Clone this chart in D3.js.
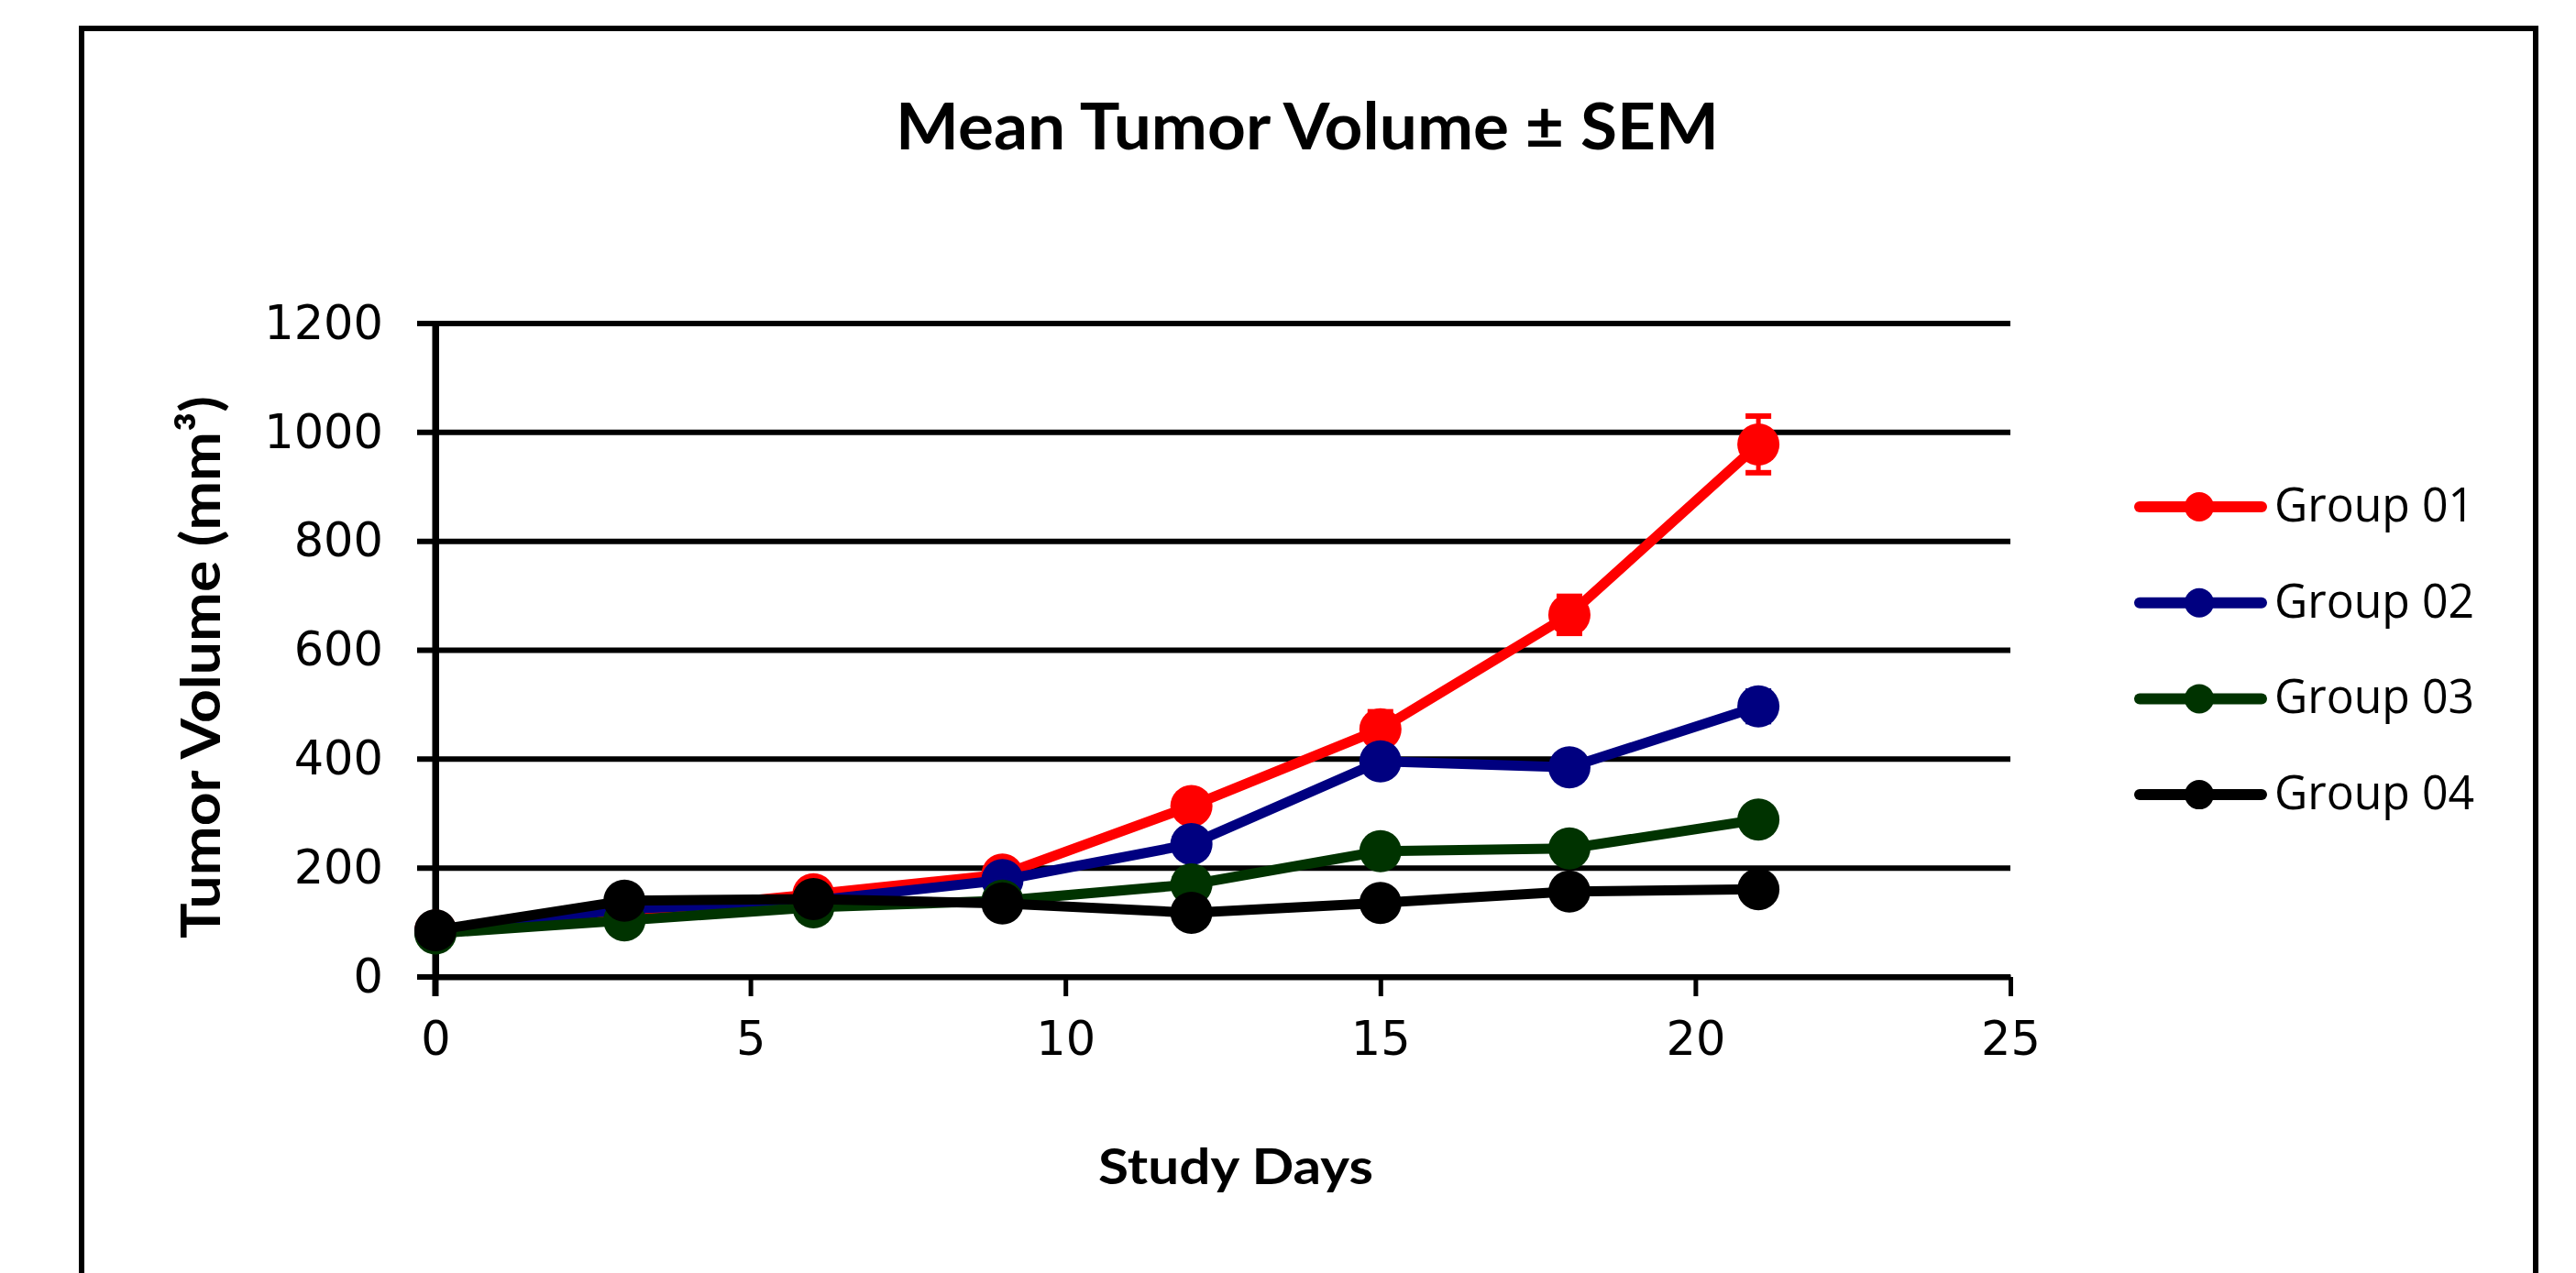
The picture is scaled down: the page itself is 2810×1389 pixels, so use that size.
<!DOCTYPE html>
<html>
<head>
<meta charset="utf-8">
<script src="https://cdn.jsdelivr.net/npm/d3@7"></script>
<style>
html,body{margin:0;padding:0;background:#fff;}
svg{display:block;}
</style>
</head>
<body>
<svg id="chart" width="2810" height="1389"></svg>
<script>
// ---- data ----
const days = [0, 3, 6, 9, 12, 15, 18, 21];
const group01 = [85, 118, 152, 188, 314, 455, 665, 978];
const group02 = [83, 125, 140, 178, 244, 396, 385, 497];
const group03 = [80, 104, 128, 140, 170, 231, 236, 289];
const group04 = [86, 140, 143, 135, 118, 136, 157, 161];
const sem01 = [5, 8, 10, 15, 22, 32, 34, 52];
const sem02 = [4, 6, 8, 10, 15, 25, 25, 28];
const sem03 = [4, 5, 6, 8, 10, 15, 15, 20];
const sem04 = [4, 6, 6, 6, 6, 8, 10, 12];
const seriesNames = ["Group 01", "Group 02", "Group 03", "Group 04"];
const seriesColors = ["#FF0000", "#000080", "#003300", "#000000"];
const xTicks = [0, 5, 10, 15, 20, 25];
const yTicks = [0, 200, 400, 600, 800, 1000, 1200];
const titleText = "Mean Tumor Volume \u00B1 SEM";
const xTitle = "Study Days";
const yTitle = "Tumor Volume (mm\u00B3)";

const series = [
  {name: seriesNames[0], color: seriesColors[0], values: group01, sem: sem01},
  {name: seriesNames[1], color: seriesColors[1], values: group02, sem: sem02},
  {name: seriesNames[2], color: seriesColors[2], values: group03, sem: sem03},
  {name: seriesNames[3], color: seriesColors[3], values: group04, sem: sem04}
];

const svg = d3.select("#chart");

// outer border
svg.append("rect").attr("x", 89).attr("y", 31).attr("width", 2677).attr("height", 1420)
  .attr("fill", "#fff").attr("stroke", "#000").attr("stroke-width", 6);

const x = d3.scaleLinear().domain([0, 25]).range([475, 2193]);
const y = d3.scaleLinear().domain([0, 1200]).range([1066, 353]);

// gridlines
svg.append("g").selectAll("line").data(yTicks).join("line")
  .attr("x1", x(0) - 20).attr("x2", x(25))
  .attr("y1", d => y(d)).attr("y2", d => y(d))
  .attr("stroke", "#000").attr("stroke-width", 6);

// x axis
const gx = svg.append("g").attr("transform", `translate(0,${y(0)})`)
  .call(d3.axisBottom(x).tickValues(xTicks).tickFormat(d3.format("d")).tickSize(21).tickSizeOuter(0).tickPadding(28));
gx.select(".domain").attr("stroke", "#000").attr("stroke-width", 6);
gx.selectAll(".tick line").attr("stroke", "#000").attr("stroke-width", 5);
gx.selectAll(".tick text").attr("font-family", "DejaVu Sans").attr("font-size", 51).attr("fill", "#000");

// y axis
const gy = svg.append("g").attr("transform", `translate(${x(0)},0)`)
  .call(d3.axisLeft(y).tickValues(yTicks).tickFormat(d3.format("d")).tickSize(0).tickSizeOuter(0).tickPadding(57));
gy.select(".domain").attr("stroke", "#000").attr("stroke-width", 7);
gy.selectAll(".tick text").attr("font-family", "DejaVu Sans").attr("font-size", 51).attr("fill", "#000");
// y-axis line extends down to x tick length
svg.append("line").attr("x1", x(0)).attr("x2", x(0)).attr("y1", y(1200)).attr("y2", y(0) + 21)
  .attr("stroke", "#000").attr("stroke-width", 7);

// series
const line = d3.line().x((d, i) => x(days[i])).y(d => y(d));
series.forEach(s => {
  const g = svg.append("g");
  g.append("path").datum(s.values).attr("d", line)
    .attr("fill", "none").attr("stroke", s.color).attr("stroke-width", 11)
    .attr("stroke-linejoin", "round").attr("stroke-linecap", "round");
  // error bars
  const eb = g.append("g");
  s.values.forEach((v, i) => {
    const cx = x(days[i]);
    eb.append("line").attr("x1", cx).attr("x2", cx).attr("y1", y(v + s.sem[i])).attr("y2", y(v - s.sem[i]))
      .attr("stroke", s.color).attr("stroke-width", 5);
    [v + s.sem[i], v - s.sem[i]].forEach(e => {
      eb.append("line").attr("x1", cx - 14).attr("x2", cx + 14).attr("y1", y(e)).attr("y2", y(e))
        .attr("stroke", s.color).attr("stroke-width", 6);
    });
  });
  g.selectAll("circle").data(s.values).join("circle")
    .attr("cx", (d, i) => x(days[i])).attr("cy", d => y(d)).attr("r", 23)
    .attr("fill", s.color);
});

// legend
const lg = svg.append("g");
series.forEach((s, i) => {
  const ly = 553 + i * 104.7;
  lg.append("line").attr("x1", 2334).attr("x2", 2467).attr("y1", ly).attr("y2", ly)
    .attr("stroke", s.color).attr("stroke-width", 12).attr("stroke-linecap", "round");
  lg.append("circle").attr("cx", 2399).attr("cy", ly).attr("r", 16).attr("fill", s.color);
  lg.append("text").attr("x", 2481).attr("y", ly + 16)
    .attr("font-family", "Open Sans").attr("font-size", 51).attr("fill", "#000")
    .attr("textLength", 218).attr("lengthAdjust", "spacingAndGlyphs")
    .text(s.name);
});

// titles
svg.append("text").attr("x", 1426).attr("y", 163).attr("text-anchor", "middle")
  .attr("font-family", "Lato").attr("font-weight", "bold").attr("font-size", 70).attr("fill", "#000")
  .attr("textLength", 898).attr("lengthAdjust", "spacingAndGlyphs")
  .text(titleText);
svg.append("text").attr("x", 1348).attr("y", 1292).attr("text-anchor", "middle")
  .attr("font-family", "Lato").attr("font-weight", "bold").attr("font-size", 53).attr("fill", "#000")
  .attr("textLength", 300).attr("lengthAdjust", "spacingAndGlyphs")
  .text(xTitle);
svg.append("text").attr("transform", "translate(240,728) rotate(-90)").attr("text-anchor", "middle")
  .attr("font-family", "Lato").attr("font-weight", "bold").attr("font-size", 60).attr("fill", "#000")
  .attr("textLength", 592).attr("lengthAdjust", "spacingAndGlyphs")
  .text(yTitle);
</script>
</body>
</html>
